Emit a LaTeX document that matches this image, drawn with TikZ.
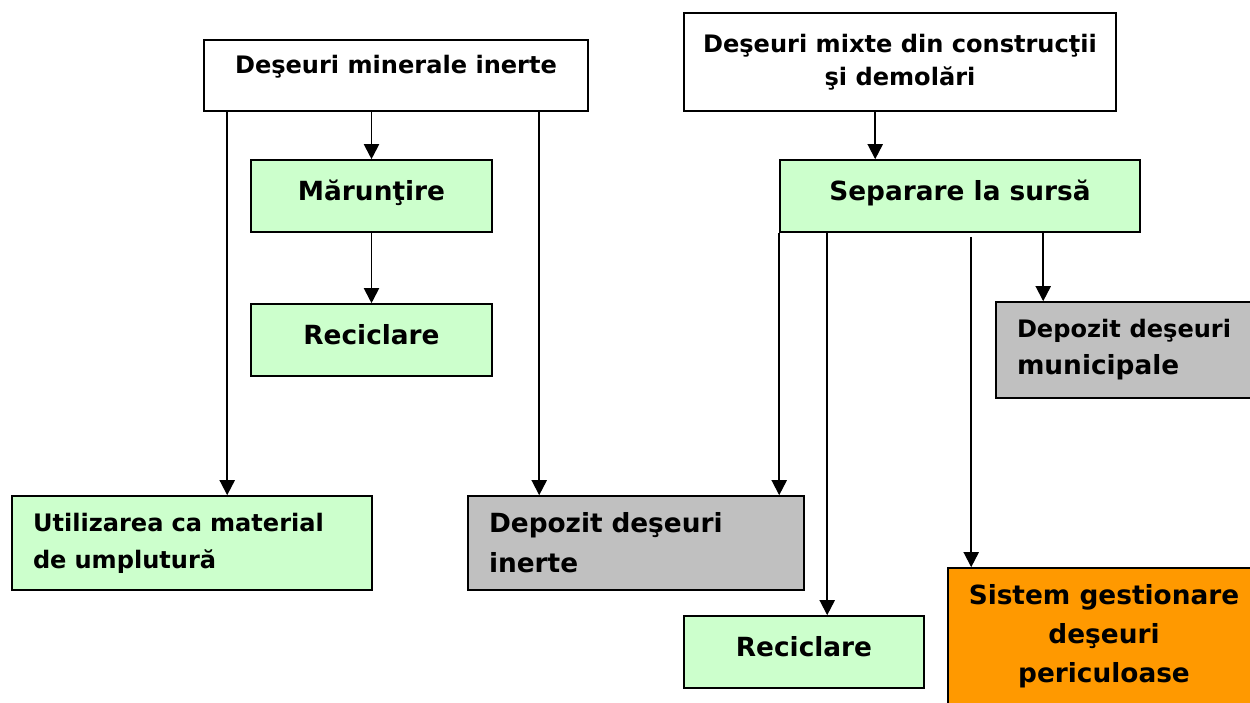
\documentclass[tikz,border=0pt]{standalone}
\usepackage{fontspec}
\setmainfont{DejaVu Sans}
\usetikzlibrary{arrows.meta, positioning, calc}

\definecolor{verdeclar}{HTML}{CCFFCC}
\definecolor{grideschis}{HTML}{C0C0C0}
\definecolor{portocaliu}{HTML}{FF9900}

\newcommand{\mic}{\fontsize{13.7}{21}\selectfont}
\newcommand{\mare}{\fontsize{15}{22.5}\selectfont}

\begin{document}
\begin{tikzpicture}[font=\bfseries,
    cutie/.style={draw, rectangle, line width=0.9pt, inner sep=0pt, align=center},
    verde/.style={cutie, fill=verdeclar},
    gri/.style={cutie, fill=grideschis},
    stanga/.style={align=left, inner xsep=0.42cm},
    sus/.style={text height=11pt, text depth=5.6pt},
    sageata/.style={-{Triangle[length=0.3cm, width=0.3cm]}, line width=1.1pt}]
    \useasboundingbox (0,0) rectangle (25,-14.06);
    \clip (0,0) rectangle (25,-14.06);
    % surse
    \node[cutie, minimum width=7.68cm, minimum height=1.42cm, text height=9pt, text depth=11pt, font=\bfseries\mic] (minerale) at (7.92,-1.51) {Deşeuri minerale inerte};
    \node[cutie, minimum width=8.64cm, minimum height=1.96cm, font=\bfseries\fontsize{13.7}{18.8}\selectfont] (mixte) at (18,-1.24) {Deşeuri mixte din construcţii\\şi demolări};
    % tratare
    \node[verde, sus, minimum width=4.82cm, minimum height=1.44cm, font=\bfseries\mare] (maruntire) at (7.43,-3.92) {Mărunţire};
    \node[verde, sus, minimum width=4.82cm, minimum height=1.44cm, font=\bfseries\mare] (reciclare1) at (7.43,-6.8) {Reciclare};
    \node[verde, sus, minimum width=7.2cm, minimum height=1.44cm, font=\bfseries\mare] (separare) at (19.2,-3.92) {Separare la sursă};
    % destinatii
    \node[gri, stanga, minimum width=5.4cm, text width=4.56cm, minimum height=1.92cm, font=\bfseries\fontsize{15}{21}\selectfont] (municipale) at (22.62,-7.0) {{\mic Depozit deşeuri}\\municipale};
    \node[verde, stanga, minimum width=7.2cm, text width=6.36cm, minimum height=1.88cm, font=\bfseries\mic] (umplutura) at (3.84,-10.86) {Utilizarea ca material\\de umplutură};
    \node[gri, stanga, minimum width=6.72cm, text width=5.88cm, minimum height=1.88cm, font=\bfseries\fontsize{15}{22.8}\selectfont] (inerte) at (12.72,-10.86) {Depozit deşeuri\\inerte};
    \node[verde, sus, minimum width=4.8cm, minimum height=1.44cm, font=\bfseries\mare] (reciclare2) at (16.08,-13.04) {Reciclare};
    \node[cutie, fill=portocaliu, minimum width=6.24cm, minimum height=2.72cm, font=\bfseries\fontsize{15}{22.2}\selectfont] (periculoase) at (22.08,-12.72) {Sistem gestionare\\deşeuri\\periculoase};
    % sageti
    \draw[sageata] ([xshift=0.48cm]minerale.south west) coordinate (m1) -- (m1 |- umplutura.north);
    \draw[sageata] (maruntire.north |- minerale.south) -- (maruntire.north);
    \draw[sageata] ([xshift=6.72cm]minerale.south west) coordinate (m3) -- (m3 |- inerte.north);
    \draw[sageata] (maruntire.south) -- (reciclare1.north);
    \draw[sageata] ([xshift=3.84cm]mixte.south west) coordinate (x1) -- (x1 |- separare.north);
    \draw[sageata] (separare.south west) -- (separare.south west |- inerte.north);
    \draw[sageata] ([xshift=0.96cm]separare.south west) coordinate (s2) -- (s2 |- reciclare2.north);
    \draw[sageata] ([xshift=3.84cm, yshift=-0.08cm]separare.south west) coordinate (s3) -- (s3 |- periculoase.north);
    \draw[sageata] ([xshift=5.28cm]separare.south west) coordinate (s4) -- (s4 |- municipale.north);
\end{tikzpicture}
\end{document}
